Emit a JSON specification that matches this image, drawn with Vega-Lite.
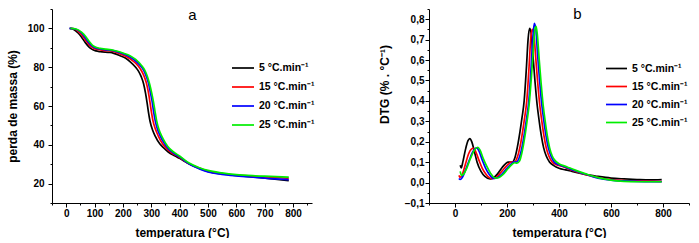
{
"$schema": "https://vega.github.io/schema/vega-lite/v6.json",
"padding": {"left": 6, "top": 6, "right": 0, "bottom": 0},
"spacing": 63,
"config": {
  "view": {"stroke": null},
  "font": "Liberation Sans",
  "axis": {"grid": false, "domainColor": "black", "tickColor": "black", "labelColor": "black", "titleColor": "black", "labelFont": "Liberation Sans", "titleFont": "Liberation Sans", "labelFontWeight": "bold", "labelFontSize": 10, "titleFontSize": 12, "titleFontWeight": "bold", "tickSize": 4, "domainWidth": 1, "tickWidth": 1, "labelOverlap": false, "labelFlush": false},
  "legend": {"labelFont": "Liberation Sans", "labelColor": "black"}
},
"datasets": {
"tga": [
{"s":"5","T":12,"v":100},{"s":"5","T":25,"v":99.6},{"s":"5","T":43,"v":97.5},{"s":"5","T":55,"v":95.3},{"s":"5","T":67,"v":92.8},{"s":"5","T":80,"v":90.5},{"s":"5","T":90,"v":89.3},{"s":"5","T":105,"v":88.4},{"s":"5","T":120,"v":88.0},{"s":"5","T":155,"v":87.6},{"s":"5","T":190,"v":85.9},{"s":"5","T":210,"v":84.6},{"s":"5","T":226,"v":82.8},{"s":"5","T":245,"v":80.0},{"s":"5","T":255,"v":78.0},{"s":"5","T":265,"v":75.0},{"s":"5","T":273,"v":71.5},{"s":"5","T":280,"v":66.5},{"s":"5","T":285,"v":62},{"s":"5","T":290,"v":57},{"s":"5","T":296,"v":52},{"s":"5","T":305,"v":47.5},{"s":"5","T":314,"v":44.5},{"s":"5","T":330,"v":40.5},{"s":"5","T":343,"v":38.5},{"s":"5","T":360,"v":36.3},{"s":"5","T":385,"v":34.2},{"s":"5","T":400,"v":33.0},{"s":"5","T":432,"v":30.2},{"s":"5","T":470,"v":27.8},{"s":"5","T":500,"v":26.3},{"s":"5","T":549,"v":25.0},{"s":"5","T":600,"v":24.2},{"s":"5","T":667,"v":23.3},{"s":"5","T":720,"v":22.5},{"s":"5","T":785,"v":21.5},
{"s":"15","T":15,"v":100},{"s":"15","T":30,"v":99.7},{"s":"15","T":48,"v":97.7},{"s":"15","T":60,"v":95.7},{"s":"15","T":72,"v":93.2},{"s":"15","T":85,"v":91.0},{"s":"15","T":97,"v":89.8},{"s":"15","T":112,"v":89.1},{"s":"15","T":130,"v":88.7},{"s":"15","T":165,"v":88.2},{"s":"15","T":195,"v":86.6},{"s":"15","T":215,"v":85.3},{"s":"15","T":235,"v":83.3},{"s":"15","T":255,"v":80.5},{"s":"15","T":265,"v":78.3},{"s":"15","T":275,"v":75.3},{"s":"15","T":283,"v":71.8},{"s":"15","T":290,"v":67},{"s":"15","T":295,"v":62.5},{"s":"15","T":300,"v":57.5},{"s":"15","T":306,"v":52.5},{"s":"15","T":315,"v":48},{"s":"15","T":325,"v":44.5},{"s":"15","T":340,"v":40.5},{"s":"15","T":355,"v":38},{"s":"15","T":370,"v":36},{"s":"15","T":395,"v":34},{"s":"15","T":432,"v":30.4},{"s":"15","T":470,"v":28},{"s":"15","T":500,"v":26.5},{"s":"15","T":549,"v":25.2},{"s":"15","T":600,"v":24.4},{"s":"15","T":667,"v":23.8},{"s":"15","T":720,"v":23.3},{"s":"15","T":785,"v":22.7},
{"s":"20","T":12,"v":100},{"s":"20","T":32,"v":99.7},{"s":"20","T":52,"v":97.9},{"s":"20","T":64,"v":95.9},{"s":"20","T":76,"v":93.4},{"s":"20","T":89,"v":91.2},{"s":"20","T":101,"v":90.1},{"s":"20","T":116,"v":89.5},{"s":"20","T":135,"v":89.1},{"s":"20","T":170,"v":88.4},{"s":"20","T":200,"v":87},{"s":"20","T":220,"v":85.7},{"s":"20","T":240,"v":83.8},{"s":"20","T":260,"v":81},{"s":"20","T":272,"v":78.8},{"s":"20","T":282,"v":75.5},{"s":"20","T":290,"v":72},{"s":"20","T":297,"v":67},{"s":"20","T":303,"v":62.5},{"s":"20","T":308,"v":57.5},{"s":"20","T":314,"v":52.5},{"s":"20","T":322,"v":48},{"s":"20","T":332,"v":44.5},{"s":"20","T":345,"v":41},{"s":"20","T":360,"v":38},{"s":"20","T":378,"v":35.8},{"s":"20","T":400,"v":33.8},{"s":"20","T":432,"v":30.3},{"s":"20","T":470,"v":27.6},{"s":"20","T":500,"v":26.0},{"s":"20","T":549,"v":24.8},{"s":"20","T":600,"v":24.0},{"s":"20","T":667,"v":23.2},{"s":"20","T":720,"v":22.6},{"s":"20","T":785,"v":22.0},
{"s":"25","T":15,"v":100},{"s":"25","T":35,"v":99.7},{"s":"25","T":55,"v":98.0},{"s":"25","T":68,"v":96.0},{"s":"25","T":80,"v":93.5},{"s":"25","T":93,"v":91.3},{"s":"25","T":105,"v":90.3},{"s":"25","T":120,"v":89.7},{"s":"25","T":140,"v":89.3},{"s":"25","T":170,"v":88.6},{"s":"25","T":205,"v":87.1},{"s":"25","T":225,"v":85.9},{"s":"25","T":245,"v":84},{"s":"25","T":265,"v":81},{"s":"25","T":277,"v":78.5},{"s":"25","T":287,"v":75},{"s":"25","T":295,"v":71},{"s":"25","T":302,"v":66.5},{"s":"25","T":308,"v":62},{"s":"25","T":313,"v":57.5},{"s":"25","T":319,"v":52.5},{"s":"25","T":327,"v":48},{"s":"25","T":337,"v":44.5},{"s":"25","T":350,"v":41},{"s":"25","T":365,"v":38},{"s":"25","T":382,"v":36},{"s":"25","T":400,"v":34.2},{"s":"25","T":432,"v":30.7},{"s":"25","T":470,"v":28.2},{"s":"25","T":500,"v":26.8},{"s":"25","T":549,"v":25.5},{"s":"25","T":600,"v":24.6},{"s":"25","T":667,"v":24.0},{"s":"25","T":720,"v":23.7},{"s":"25","T":785,"v":23.3}
],
"dtg": [
{"s":"5","T":20,"v":0.085},{"s":"5","T":24,"v":0.072},{"s":"5","T":30,"v":0.1},{"s":"5","T":40,"v":0.16},{"s":"5","T":50,"v":0.205},{"s":"5","T":57,"v":0.215},{"s":"5","T":65,"v":0.198},{"s":"5","T":75,"v":0.15},{"s":"5","T":85,"v":0.1},{"s":"5","T":100,"v":0.055},{"s":"5","T":115,"v":0.03},{"s":"5","T":135,"v":0.018},{"s":"5","T":150,"v":0.025},{"s":"5","T":165,"v":0.045},{"s":"5","T":182,"v":0.075},{"s":"5","T":195,"v":0.093},{"s":"5","T":205,"v":0.1},{"s":"5","T":220,"v":0.1},{"s":"5","T":230,"v":0.12},{"s":"5","T":240,"v":0.175},{"s":"5","T":250,"v":0.25},{"s":"5","T":258,"v":0.32},{"s":"5","T":266,"v":0.4},{"s":"5","T":275,"v":0.57},{"s":"5","T":281,"v":0.7},{"s":"5","T":287,"v":0.755},{"s":"5","T":293,"v":0.73},{"s":"5","T":300,"v":0.62},{"s":"5","T":308,"v":0.49},{"s":"5","T":316,"v":0.38},{"s":"5","T":324,"v":0.3},{"s":"5","T":332,"v":0.23},{"s":"5","T":341,"v":0.17},{"s":"5","T":351,"v":0.13},{"s":"5","T":364,"v":0.1},{"s":"5","T":380,"v":0.083},{"s":"5","T":400,"v":0.07},{"s":"5","T":425,"v":0.062},{"s":"5","T":450,"v":0.055},{"s":"5","T":500,"v":0.04},{"s":"5","T":550,"v":0.03},{"s":"5","T":600,"v":0.022},{"s":"5","T":650,"v":0.018},{"s":"5","T":700,"v":0.015},{"s":"5","T":750,"v":0.013},{"s":"5","T":795,"v":0.015},
{"s":"15","T":15,"v":0.035},{"s":"15","T":20,"v":0.025},{"s":"15","T":28,"v":0.04},{"s":"15","T":40,"v":0.09},{"s":"15","T":52,"v":0.14},{"s":"15","T":62,"v":0.163},{"s":"15","T":71,"v":0.168},{"s":"15","T":80,"v":0.15},{"s":"15","T":92,"v":0.11},{"s":"15","T":105,"v":0.07},{"s":"15","T":120,"v":0.04},{"s":"15","T":140,"v":0.02},{"s":"15","T":155,"v":0.022},{"s":"15","T":170,"v":0.04},{"s":"15","T":190,"v":0.07},{"s":"15","T":205,"v":0.09},{"s":"15","T":215,"v":0.1},{"s":"15","T":228,"v":0.1},{"s":"15","T":240,"v":0.125},{"s":"15","T":250,"v":0.175},{"s":"15","T":260,"v":0.25},{"s":"15","T":268,"v":0.32},{"s":"15","T":276,"v":0.4},{"s":"15","T":285,"v":0.57},{"s":"15","T":291,"v":0.7},{"s":"15","T":297,"v":0.75},{"s":"15","T":303,"v":0.73},{"s":"15","T":310,"v":0.62},{"s":"15","T":318,"v":0.49},{"s":"15","T":326,"v":0.38},{"s":"15","T":334,"v":0.3},{"s":"15","T":342,"v":0.23},{"s":"15","T":351,"v":0.17},{"s":"15","T":361,"v":0.13},{"s":"15","T":374,"v":0.1},{"s":"15","T":390,"v":0.088},{"s":"15","T":410,"v":0.08},{"s":"15","T":430,"v":0.07},{"s":"15","T":450,"v":0.06},{"s":"15","T":500,"v":0.04},{"s":"15","T":550,"v":0.025},{"s":"15","T":600,"v":0.015},{"s":"15","T":650,"v":0.01},{"s":"15","T":700,"v":0.008},{"s":"15","T":750,"v":0.007},{"s":"15","T":795,"v":0.006},
{"s":"20","T":15,"v":0.02},{"s":"20","T":20,"v":0.015},{"s":"20","T":28,"v":0.025},{"s":"20","T":40,"v":0.06},{"s":"20","T":55,"v":0.11},{"s":"20","T":68,"v":0.15},{"s":"20","T":78,"v":0.167},{"s":"20","T":84,"v":0.17},{"s":"20","T":92,"v":0.155},{"s":"20","T":105,"v":0.11},{"s":"20","T":118,"v":0.07},{"s":"20","T":132,"v":0.04},{"s":"20","T":150,"v":0.02},{"s":"20","T":165,"v":0.025},{"s":"20","T":180,"v":0.04},{"s":"20","T":200,"v":0.07},{"s":"20","T":215,"v":0.09},{"s":"20","T":225,"v":0.1},{"s":"20","T":235,"v":0.1},{"s":"20","T":248,"v":0.125},{"s":"20","T":258,"v":0.175},{"s":"20","T":268,"v":0.25},{"s":"20","T":276,"v":0.32},{"s":"20","T":284,"v":0.4},{"s":"20","T":293,"v":0.57},{"s":"20","T":299,"v":0.7},{"s":"20","T":305,"v":0.78},{"s":"20","T":311,"v":0.75},{"s":"20","T":318,"v":0.62},{"s":"20","T":326,"v":0.49},{"s":"20","T":334,"v":0.38},{"s":"20","T":342,"v":0.3},{"s":"20","T":350,"v":0.23},{"s":"20","T":359,"v":0.17},{"s":"20","T":369,"v":0.13},{"s":"20","T":382,"v":0.1},{"s":"20","T":398,"v":0.088},{"s":"20","T":415,"v":0.08},{"s":"20","T":435,"v":0.07},{"s":"20","T":455,"v":0.06},{"s":"20","T":500,"v":0.042},{"s":"20","T":550,"v":0.022},{"s":"20","T":600,"v":0.012},{"s":"20","T":650,"v":0.008},{"s":"20","T":700,"v":0.006},{"s":"20","T":750,"v":0.005},{"s":"20","T":795,"v":0.005},
{"s":"25","T":20,"v":0.055},{"s":"25","T":25,"v":0.035},{"s":"25","T":32,"v":0.04},{"s":"25","T":45,"v":0.07},{"s":"25","T":60,"v":0.12},{"s":"25","T":75,"v":0.16},{"s":"25","T":88,"v":0.173},{"s":"25","T":96,"v":0.16},{"s":"25","T":108,"v":0.12},{"s":"25","T":122,"v":0.08},{"s":"25","T":137,"v":0.045},{"s":"25","T":155,"v":0.022},{"s":"25","T":170,"v":0.025},{"s":"25","T":185,"v":0.04},{"s":"25","T":205,"v":0.07},{"s":"25","T":220,"v":0.09},{"s":"25","T":230,"v":0.097},{"s":"25","T":238,"v":0.095},{"s":"25","T":248,"v":0.105},{"s":"25","T":258,"v":0.15},{"s":"25","T":268,"v":0.22},{"s":"25","T":277,"v":0.3},{"s":"25","T":285,"v":0.38},{"s":"25","T":294,"v":0.52},{"s":"25","T":302,"v":0.67},{"s":"25","T":308,"v":0.755},{"s":"25","T":312,"v":0.765},{"s":"25","T":317,"v":0.72},{"s":"25","T":324,"v":0.6},{"s":"25","T":331,"v":0.49},{"s":"25","T":339,"v":0.38},{"s":"25","T":347,"v":0.3},{"s":"25","T":355,"v":0.23},{"s":"25","T":364,"v":0.17},{"s":"25","T":374,"v":0.13},{"s":"25","T":387,"v":0.105},{"s":"25","T":403,"v":0.09},{"s":"25","T":420,"v":0.082},{"s":"25","T":440,"v":0.072},{"s":"25","T":460,"v":0.062},{"s":"25","T":500,"v":0.044},{"s":"25","T":550,"v":0.024},{"s":"25","T":600,"v":0.012},{"s":"25","T":650,"v":0.006},{"s":"25","T":700,"v":0.004},{"s":"25","T":750,"v":0.004},{"s":"25","T":795,"v":0.004}
]
},
"hconcat": [
{
  "width": 260, "height": 194,
  "data": {"name": "tga"},
  "layer": [
    {"mark": {"type": "line", "strokeWidth": 1.7, "interpolate": "monotone"},
     "encoding": {
       "x": {"field": "T", "type": "quantitative", "scale": {"domain": [-50, 867], "nice": false, "zero": false}, "axis": {"values": [0,100,200,300,400,500,600,700,800], "title": "temperatura (°C)", "labelPadding": 1, "titlePadding": 9}},
       "y": {"field": "v", "type": "quantitative", "scale": {"domain": [10, 110], "nice": false, "zero": false}, "axis": {"values": [20,40,60,80,100], "title": "perda de massa (%)", "labelPadding": 4, "titlePadding": 8}},
       "color": {"field": "s", "type": "nominal", "scale": {"domain": ["5","15","20","25"], "range": ["#000000","#ff0000","#0000ff","#00ee00"]},
         "legend": {"orient": "none", "legendX": 179, "legendY": 47, "title": null, "symbolType": "stroke", "symbolSize": 484, "symbolStrokeWidth": 1.7, "labelFontSize": 10.5, "labelFontWeight": "bold", "labelOffset": 4, "rowPadding": 1, "labelExpr": "(datum.label == '5' ? '\u2007\u2009' : '') + datum.label + ' °C.min⁻¹'"}}
     }},
    {"mark": {"type": "line", "opacity": 0},
     "encoding": {
       "x": {"field": "T", "type": "quantitative", "axis": {"orient": "bottom", "values": [-50,50,150,250,350,450,550,650,750,850], "labels": false, "domain": false, "tickSize": 2, "title": "a", "titleFontSize": 15, "titleFontWeight": "normal", "titleX": 140, "titleY": -184, "titleAlign": "center", "titleBaseline": "alphabetic", "titleAngle": 0}},
       "y": {"field": "v", "type": "quantitative", "axis": {"orient": "left", "values": [10,30,50,70,90,110], "labels": false, "domain": false, "tickSize": 2, "title": null}},
       "detail": {"field": "s"}
     }}
  ],
  "resolve": {"axis": {"x": "independent", "y": "independent"}}
},
{
  "width": 260, "height": 194,
  "data": {"name": "dtg"},
  "layer": [
    {"mark": {"type": "line", "strokeWidth": 1.7, "interpolate": "monotone"},
     "encoding": {
       "x": {"field": "T", "type": "quantitative", "scale": {"domain": [-100, 900], "nice": false, "zero": false}, "axis": {"values": [0,200,400,600,800], "title": "temperatura (°C)", "labelPadding": 1, "titlePadding": 9}},
       "y": {"field": "v", "type": "quantitative", "scale": {"domain": [-0.1, 0.85], "nice": false, "zero": false}, "axis": {"values": [-0.1,0,0.1,0.2,0.3,0.4,0.5,0.6,0.7,0.8], "labelExpr": "replace(format(datum.value, '.1f'), '.', ',')", "title": "DTG (% . °C⁻¹)", "labelPadding": 1, "titlePadding": 13, "titleY": 75}},
       "color": {"field": "s", "type": "nominal", "scale": {"domain": ["5","15","20","25"], "range": ["#000000","#ff0000","#0000ff","#00ee00"]},
         "legend": {"orient": "none", "legendX": 176, "legendY": 48, "title": null, "symbolType": "stroke", "symbolSize": 441, "symbolStrokeWidth": 1.7, "labelFontSize": 10.5, "labelFontWeight": "bold", "labelOffset": 4, "rowPadding": 1, "labelExpr": "(datum.label == '5' ? '\u2007\u2009' : '') + datum.label + ' °C.min⁻¹'"}}
     }},
    {"mark": {"type": "line", "opacity": 0},
     "encoding": {
       "x": {"field": "T", "type": "quantitative", "axis": {"orient": "bottom", "values": [-100,100,300,500,700,900], "labels": false, "domain": false, "tickSize": 2, "title": "b", "titleFontSize": 15, "titleFontWeight": "normal", "titleX": 148, "titleY": -185, "titleAlign": "center", "titleBaseline": "alphabetic", "titleAngle": 0}},
       "y": {"field": "v", "type": "quantitative", "axis": {"orient": "left", "values": [-0.05,0.05,0.15,0.25,0.35,0.45,0.55,0.65,0.75,0.85], "labels": false, "domain": false, "tickSize": 2, "title": null}},
       "detail": {"field": "s"}
     }}
  ],
  "resolve": {"axis": {"x": "independent", "y": "independent"}}
}
],
"resolve": {"scale": {"color": "independent"}, "legend": {"color": "independent"}}
}
